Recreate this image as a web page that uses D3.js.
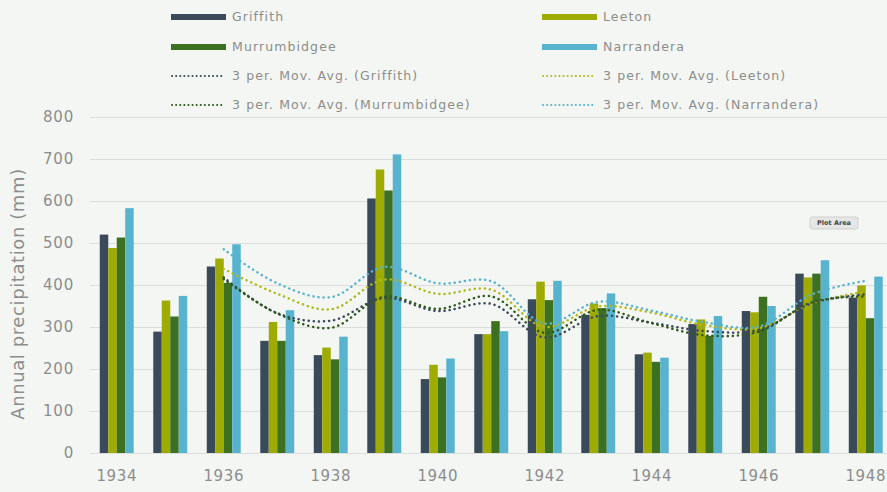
<!DOCTYPE html>
<html>
<head>
<meta charset="utf-8">
<script src="https://cdn.jsdelivr.net/npm/d3@7"></script>
<style>
  html, body { margin: 0; padding: 0; background: #f3f6f2; }
  svg { display: block; font-family: "DejaVu Sans", sans-serif; }
</style>
</head>
<body>
<svg id="chart" width="887" height="492"></svg>
<script>
// Annual precipitation (mm) by station, 1934–1948
const years = ["1934","1935","1936","1937","1938","1939","1940","1941","1942","1943","1944","1945","1946","1947","1948"];
const xTickLabels = ["1934","1936","1938","1940","1942","1944","1946","1948"];
const yTicks = [0,100,200,300,400,500,600,700,800];

const griffith     = [520,289,444,267,233,606,176,283,366,329,235,307,338,427,370];
const leeton       = [488,363,463,312,251,675,210,283,408,356,239,318,335,418,399];
const murrumbidgee = [513,325,405,267,223,625,180,314,364,345,217,279,372,427,321];
const narrandera   = [583,374,497,340,277,711,225,290,410,380,227,326,350,459,420];

// 3-period moving averages, plotted from 1936 onward
const maYears = years.slice(2);
const maGriffith     = [418,333,315,369,338,355,275,326,310,290,293,357,378];
const maLeeton       = [438,379,342,413,379,389,300,349,334,304,297,357,384];
const maMurrumbidgee = [414,332,298,372,343,373,286,341,309,280,289,359,373];
const maNarrandera   = [485,404,371,443,404,409,308,360,339,311,301,378,410];

const seriesNames = ["Griffith","Leeton","Murrumbidgee","Narrandera"];
const seriesValues = [griffith, leeton, murrumbidgee, narrandera];
const maValues = [maGriffith, maLeeton, maMurrumbidgee, maNarrandera];
const colors = ["#3b4a5a","#9eab00","#3e7021","#58b3cf"];
const maColors = ["#3b4a5a","#b3b81a","#2f5a1c","#58b3cf"];

const svg = d3.select("#chart");
const textColor = "#8d8d8d";

const plotLeft = 90, step = 53.5;
const x = d3.scaleBand()
  .domain(years)
  .range([plotLeft, plotLeft + years.length * step])
  .paddingInner(0.365)
  .paddingOuter(0.1825);
const xSub = d3.scaleBand().domain(seriesNames).range([0, x.bandwidth()]);
const y = d3.scaleLinear().domain([0, 800]).range([453, 117]);

// Gridlines
svg.append("g")
  .attr("transform", `translate(${plotLeft},0)`)
  .call(d3.axisLeft(y).tickValues(yTicks).tickSize(-(887 - plotLeft)).tickFormat(""))
  .call(g => g.select(".domain").remove())
  .call(g => g.selectAll("line").attr("stroke", "#dcdedb").attr("stroke-width", 1));

// Y tick labels
svg.append("g")
  .attr("transform", "translate(74,0)")
  .call(d3.axisLeft(y).tickValues(yTicks).tickSize(0).tickPadding(0))
  .call(g => g.select(".domain").remove())
  .call(g => g.selectAll("text")
    .attr("fill", textColor).attr("font-size", 15).attr("letter-spacing", 0.8)
    .attr("font-family", "DejaVu Sans, sans-serif"));

// X tick labels
svg.append("g")
  .attr("transform", "translate(0,470)")
  .call(d3.axisBottom(x).tickValues(xTickLabels).tickSize(0).tickPadding(0))
  .call(g => g.select(".domain").remove())
  .call(g => g.selectAll("text")
    .attr("fill", textColor).attr("font-size", 15).attr("letter-spacing", 0.6)
    .attr("font-family", "DejaVu Sans, sans-serif"));

// Axis title
svg.append("text")
  .attr("transform", "translate(24,294) rotate(-90)")
  .attr("text-anchor", "middle")
  .attr("fill", textColor)
  .attr("font-size", 18)
  .attr("letter-spacing", 0.6)
  .text("Annual precipitation (mm)");

// Bars
const groups = svg.append("g").selectAll("g")
  .data(years)
  .join("g")
  .attr("transform", d => `translate(${x(d)},0)`);

groups.selectAll("rect")
  .data((d, i) => seriesNames.map((s, k) => ({ s, k, v: seriesValues[k][i] })))
  .join("rect")
  .attr("x", d => xSub(d.s))
  .attr("width", xSub.bandwidth())
  .attr("y", d => y(d.v))
  .attr("height", d => y(0) - y(d.v))
  .attr("fill", d => colors[d.k]);

// Moving average trendlines
const line = d3.line()
  .x((d, i) => x(maYears[i]) + x.bandwidth() / 2)
  .y(d => y(d))
  .curve(d3.curveCatmullRom.alpha(0.5));

svg.append("g").selectAll("path")
  .data(maValues)
  .join("path")
  .attr("d", d => line(d))
  .attr("fill", "none")
  .attr("stroke", (d, k) => maColors[k])
  .attr("stroke-width", 2.5)
  .attr("stroke-linecap", "round")
  .attr("stroke-dasharray", "0.1 5");

// Legend
const legendCols = [171, 542];
const legendRows = [17, 47, 76, 105];
const legendItems = [
  { label: "Griffith", type: "bar", k: 0, col: 0, row: 0 },
  { label: "Leeton", type: "bar", k: 1, col: 1, row: 0 },
  { label: "Murrumbidgee", type: "bar", k: 2, col: 0, row: 1 },
  { label: "Narrandera", type: "bar", k: 3, col: 1, row: 1 },
  { label: "3 per. Mov. Avg. (Griffith)", type: "ma", k: 0, col: 0, row: 2 },
  { label: "3 per. Mov. Avg. (Leeton)", type: "ma", k: 1, col: 1, row: 2 },
  { label: "3 per. Mov. Avg. (Murrumbidgee)", type: "ma", k: 2, col: 0, row: 3 },
  { label: "3 per. Mov. Avg. (Narrandera)", type: "ma", k: 3, col: 1, row: 3 }
];
const legend = svg.append("g").selectAll("g")
  .data(legendItems)
  .join("g")
  .attr("transform", d => `translate(${legendCols[d.col]},${legendRows[d.row]})`);

legend.filter(d => d.type === "bar").append("rect")
  .attr("x", 0).attr("y", -3).attr("width", 55).attr("height", 6)
  .attr("fill", d => colors[d.k]);

legend.filter(d => d.type === "ma").append("line")
  .attr("x1", 1).attr("x2", 54).attr("y1", 0).attr("y2", 0)
  .attr("stroke", d => maColors[d.k])
  .attr("stroke-width", 2)
  .attr("stroke-linecap", "round")
  .attr("stroke-dasharray", "0.1 4");

legend.append("text")
  .attr("x", 61).attr("y", 0).attr("dy", "0.35em")
  .attr("fill", textColor)
  .attr("font-size", 12.5)
  .attr("letter-spacing", 1.1)
  .text(d => d.label);

// Hover label over the plot area
const tip = svg.append("g").attr("transform", "translate(810,217)");
tip.append("rect")
  .attr("width", 48).attr("height", 12).attr("rx", 2)
  .attr("fill", "#e6e7e5").attr("stroke", "#cfd1ce");
tip.append("text")
  .attr("x", 24).attr("y", 6).attr("dy", "0.35em")
  .attr("text-anchor", "middle")
  .attr("font-size", 6.5).attr("font-weight", "bold")
  .attr("fill", "#444")
  .text("Plot Area");
</script>
</body>
</html>
